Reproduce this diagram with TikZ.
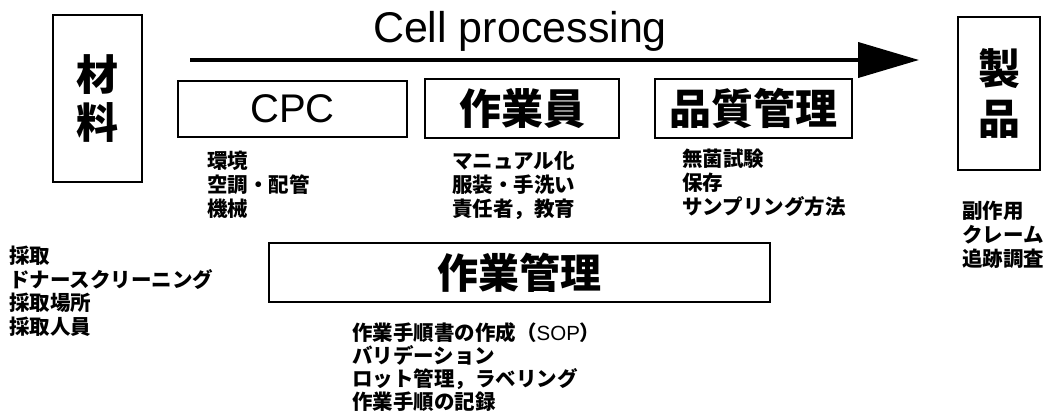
\documentclass[tikz,border=0pt]{standalone}
\usepackage{fontspec}
\newfontfamily\jp{Noto Sans CJK JP}
\newfontfamily\lat{Liberation Sans}
\usetikzlibrary{arrows.meta}
\begin{document}
\begin{tikzpicture}[x=1pt,y=-1pt,
  box/.style={draw, line width=1.2pt, inner sep=0pt, align=center},
  bigjp/.style={font=\jp\bfseries\fontsize{42}{48}\selectfont},
  biglat/.style={font=\lat\fontsize{40}{48}\selectfont},
  list/.style={inner sep=0pt, anchor=north west, align=left,
    font=\jp\bfseries\fontsize{20.5}{24}\selectfont}
]
\useasboundingbox (0,0) rectangle (1048,414);
% title arrow
\node[font=\lat\fontsize{43}{48}\selectfont, inner sep=0pt, anchor=base] (title) at (520,43) {Cell processing};
\coordinate (as) at (190,60);
\coordinate (ae) at (919,60);
\draw[line width=4pt, -{Triangle[length=61pt 0 0, width=35pt 0 0]}] (as) -- (ae);
% side boxes
\node[box, bigjp, minimum width=89pt, minimum height=167pt] (mat) at (97.5,98.5) {材\\料};
\node[box, bigjp, minimum width=82pt, minimum height=153pt, font=\jp\bfseries\fontsize{42}{50}\selectfont] (prod) at (999,93.5) {製\\品};
% middle boxes
\node[box, biglat, minimum width=229pt, minimum height=56pt] (cpc) at (292.5,109) {CPC};
\node[box, bigjp, minimum width=194pt, minimum height=59pt] (op) at (522,108.5) {作業員};
\node[box, bigjp, minimum width=197pt, minimum height=59pt] (qc) at (753.5,108.5) {品質管理};
\node[box, bigjp, minimum width=501pt, minimum height=59pt, font=\jp\bfseries\fontsize{41}{48}\selectfont] (wm) at (519.5,272.5) {作業管理};
% lists
\node[list] (l1) at (207,151) {環境\\空調・配管\\機械};
\node[list] (l2) at (452,151) {マニュアル化\\服装・手洗い\\責任者，教育};
\node[list] (l3) at (682,149) {無菌試験\\保存\\サンプリング方法};
\node[list] (l4) at (962,201) {副作用\\クレーム\\追跡調査};
\node[list, font=\jp\bfseries\fontsize{20.5}{23.5}\selectfont] (l5) at (9,246) {採取\\ドナースクリーニング\\採取場所\\採取人員};
\node[list, font=\jp\bfseries\fontsize{20.5}{23}\selectfont] (l6) at (352,322) {作業手順書の作成（{\lat\mdseries SOP}）\\バリデーション\\ロット管理，ラベリング\\作業手順の記録};
\end{tikzpicture}
\end{document}
